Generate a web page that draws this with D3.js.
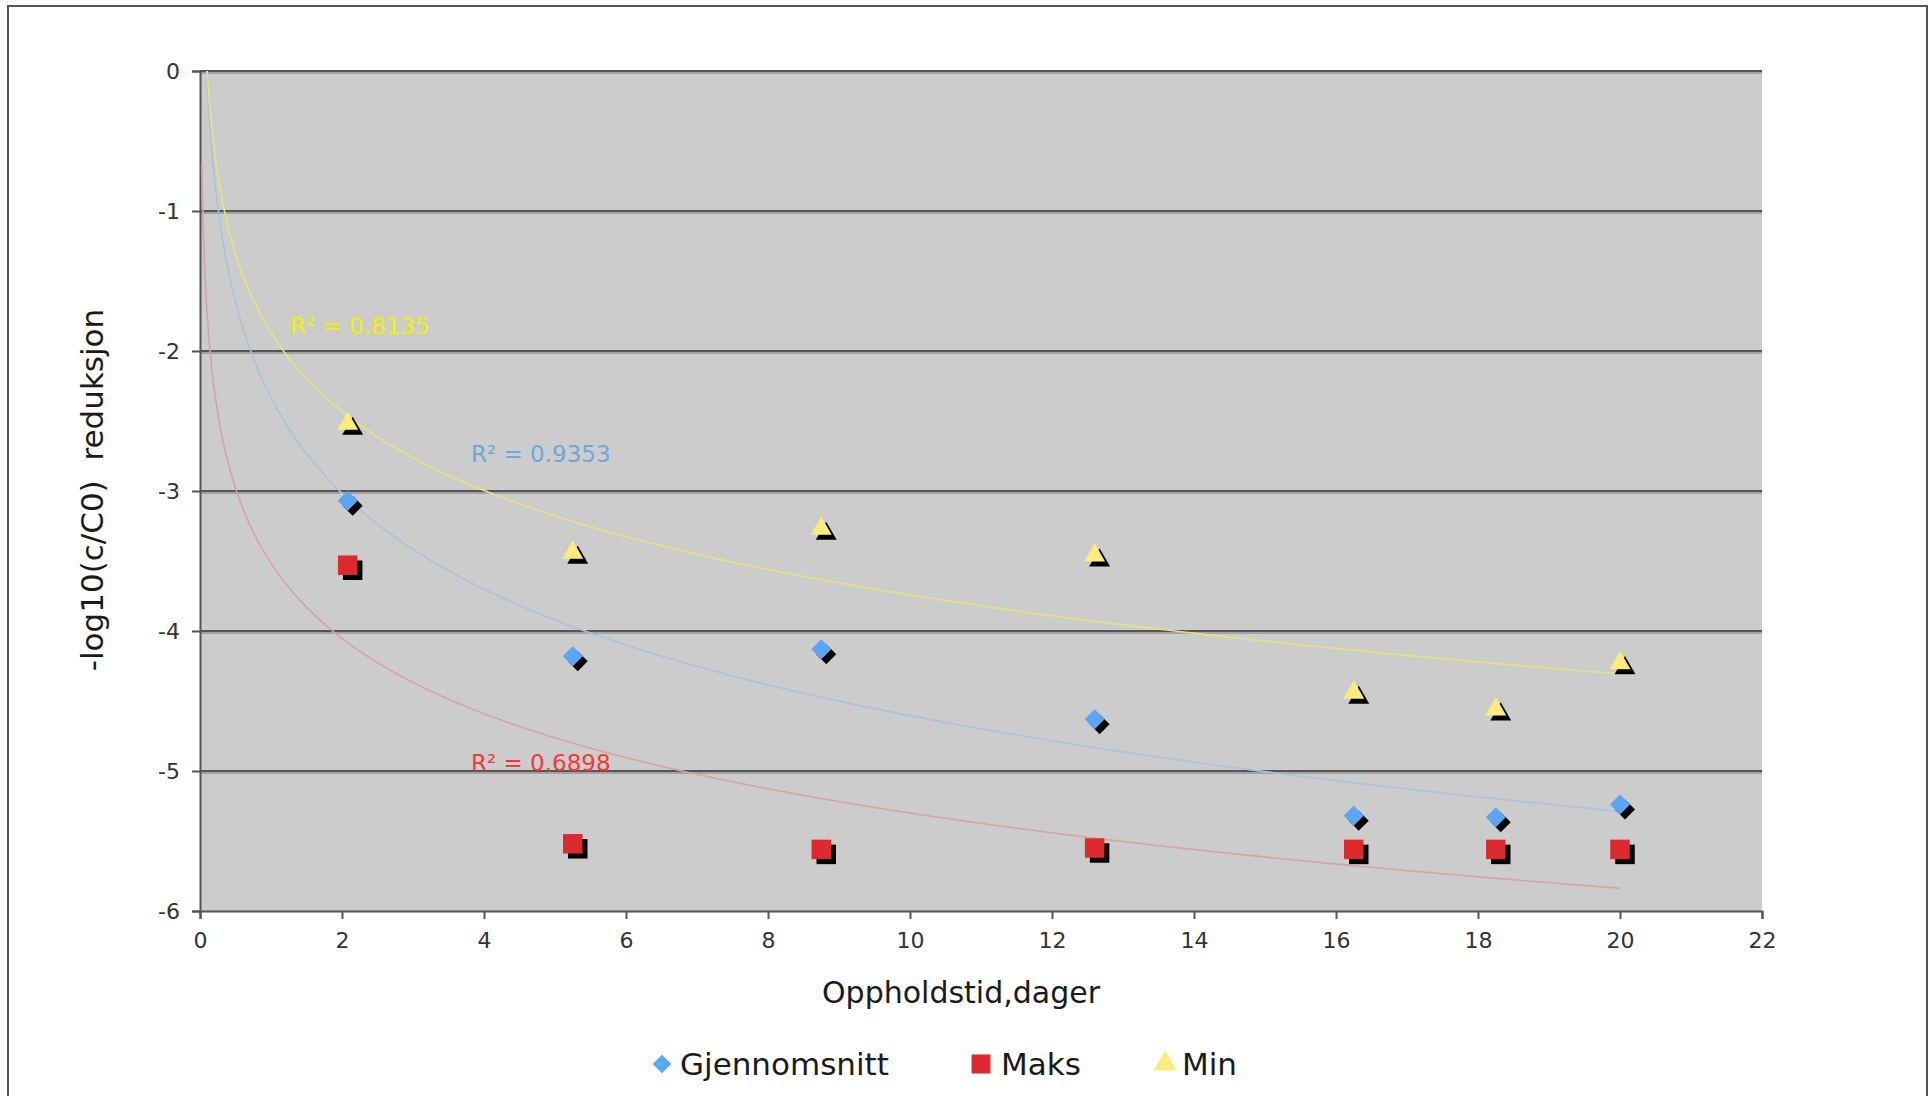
<!DOCTYPE html>
<html>
<head>
<meta charset="utf-8">
<script src="https://cdn.jsdelivr.net/npm/d3@7"></script>
<style>
  html, body { margin: 0; padding: 0; background: #ffffff; }
  svg { display: block; }
  text { font-family: "DejaVu Sans", Verdana, sans-serif; }
</style>
</head>
<body>
<svg id="chart" width="1930" height="1096"></svg>
<script>
// Residence time (days) and log reduction for each series
const residenceDays = [2.08, 5.25, 8.75, 12.6, 16.25, 18.25, 20.0];
const gjennomsnitt = [-3.07, -4.18, -4.13, -4.63, -5.32, -5.33, -5.24];
const maks = [-3.53, -5.52, -5.56, -5.55, -5.56, -5.56, -5.56];
const minVals = [-2.52, -3.44, -3.27, -3.46, -4.44, -4.56, -4.23];

const seriesNames = ["Gjennomsnitt", "Maks", "Min"];
const rSquaredText = ["R\u00B2 = 0.9353", "R\u00B2 = 0.6898", "R\u00B2 = 0.8135"];

const xTickValues = [0, 2, 4, 6, 8, 10, 12, 14, 16, 18, 20, 22];
const yTickValues = [0, -1, -2, -3, -4, -5, -6];

const xTitle = "Oppholdstid,dager";
const yTitle = "-log10(c/C0)\u00A0\u00A0reduksjon";

// Layout
const plot = { left: 200, right: 1762, top: 71, bottom: 911 };
const svg = d3.select("#chart");

const x = d3.scaleLinear().domain([0, 22]).range([plot.left, plot.right]);
const y = d3.scaleLinear().domain([-6, 0]).range([plot.bottom, plot.top]);

const styles = [
  { name: seriesNames[0], values: gjennomsnitt, color: "#5aa6f2", trend: "#a9c3dc", label: "#6fa7dc", shape: "diamond" },
  { name: seriesNames[1], values: maks, color: "#dd2a2e", trend: "#d9a2a2", label: "#f23a3a", shape: "square" },
  { name: seriesNames[2], values: minVals, color: "#fbec7c", trend: "#e4e382", label: "#f2f200", shape: "triangle" }
];

// Outer frame
svg.append("rect")
  .attr("x", 8).attr("y", 6)
  .attr("width", 1919).attr("height", 1110)
  .attr("fill", "#ffffff")
  .attr("stroke", "#555555").attr("stroke-width", 2);

// Plot area
svg.append("rect")
  .attr("x", plot.left).attr("y", plot.top)
  .attr("width", plot.right - plot.left).attr("height", plot.bottom - plot.top)
  .attr("fill", "#cccccc");

svg.append("defs").append("clipPath").attr("id", "plotClip")
  .append("rect")
  .attr("x", plot.left).attr("y", plot.top)
  .attr("width", plot.right - plot.left).attr("height", plot.bottom - plot.top);

// Horizontal gridlines with a soft shadow under each
const grid = svg.append("g");
yTickValues.filter(v => v > -6).forEach(v => {
  grid.append("line")
    .attr("x1", plot.left).attr("x2", plot.right)
    .attr("y1", y(v) + 2).attr("y2", y(v) + 2)
    .attr("stroke", "#a3a3a3").attr("stroke-width", 2);
  grid.append("line")
    .attr("x1", plot.left).attr("x2", plot.right)
    .attr("y1", y(v)).attr("y2", y(v))
    .attr("stroke", "#555555").attr("stroke-width", 2);
});

// Axes (plain hyphen for negative numbers)
const fmt = d => String(d);
const yAxis = d3.axisLeft(y).tickValues(yTickValues).tickSize(8).tickPadding(12).tickFormat(fmt);
const xAxis = d3.axisBottom(x).tickValues(xTickValues).tickSize(8).tickPadding(13).tickFormat(fmt);

const yg = svg.append("g").attr("transform", `translate(${plot.left},0)`).call(yAxis);
const xg = svg.append("g").attr("transform", `translate(0,${plot.bottom})`).call(xAxis);

[yg, xg].forEach(g => {
  g.select(".domain").attr("stroke", "#555555").attr("stroke-width", 2);
  g.selectAll(".tick line").attr("stroke", "#555555").attr("stroke-width", 2);
  g.selectAll(".tick text")
    .attr("fill", "#333333")
    .style("font-family", "'DejaVu Sans', Verdana, sans-serif")
    .style("font-size", "22px");
});

// Logarithmic least-squares trendlines, y = a*ln(x) + b
function logFit(xs, ys) {
  const lx = xs.map(Math.log);
  const mx = d3.mean(lx), my = d3.mean(ys);
  let sxy = 0, sxx = 0;
  lx.forEach((v, i) => { sxy += (v - mx) * (ys[i] - my); sxx += (v - mx) * (v - mx); });
  const a = sxy / sxx;
  return { a, b: my - a * mx };
}

const trendStart = 0.025, trendEnd = 20;
const trendXs = d3.range(0, 401).map(i => Math.exp(Math.log(trendStart) + (Math.log(trendEnd) - Math.log(trendStart)) * i / 400));
const line = d3.line().x(d => x(d[0])).y(d => y(d[1])).curve(d3.curveLinear);

const trends = svg.append("g").attr("clip-path", "url(#plotClip)");
styles.forEach(s => {
  const f = logFit(residenceDays, s.values);
  trends.append("path")
    .attr("d", line(trendXs.map(t => [t, f.a * Math.log(t) + f.b])))
    .attr("fill", "none")
    .attr("stroke", s.trend)
    .attr("stroke-width", 1.6);
});

// R² labels
const labelPos = [
  { x: 471, y: 462 },
  { x: 471, y: 771 },
  { x: 290, y: 334 }
];
styles.forEach((s, i) => {
  svg.append("text")
    .attr("x", labelPos[i].x).attr("y", labelPos[i].y)
    .attr("fill", s.label)
    .style("font-size", "23px")
    .text(rSquaredText[i]);
});

// Marker shapes
function symbolFor(shape, scale) {
  if (shape === "diamond") return d3.symbol(d3.symbolSquare, 200 * scale)();
  if (shape === "square") return d3.symbol(d3.symbolSquare, 380 * scale)();
  return d3.symbol(d3.symbolTriangle, 190 * scale)();
}
function rotFor(shape) { return shape === "diamond" ? " rotate(45)" : ""; }

const marks = svg.append("g");
styles.forEach(s => {
  const pts = residenceDays.map((d, i) => [d, s.values[i]]);
  // drop shadow
  marks.selectAll(null).data(pts).enter().append("path")
    .attr("d", symbolFor(s.shape, 1))
    .attr("transform", d => `translate(${x(d[0]) + 5},${y(d[1]) + 5})${rotFor(s.shape)}`)
    .attr("fill", "#000000");
  marks.selectAll(null).data(pts).enter().append("path")
    .attr("d", symbolFor(s.shape, 1))
    .attr("transform", d => `translate(${x(d[0])},${y(d[1])})${rotFor(s.shape)}`)
    .attr("fill", s.color);
});

// Axis titles
svg.append("text")
  .attr("x", 961).attr("y", 1003)
  .attr("text-anchor", "middle")
  .attr("fill", "#1a1a1a")
  .style("font-size", "30px")
  .text(xTitle);

svg.append("text")
  .attr("transform", "translate(103,490) rotate(-90)")
  .attr("text-anchor", "middle")
  .attr("fill", "#1a1a1a")
  .style("font-size", "31px")
  .text(yTitle);

// Legend
const legendItems = [
  { markX: 662, textX: 680 },
  { markX: 981, textX: 1001 },
  { markX: 1165, textX: 1182 }
];
const legendY = 1064;
const legend = svg.append("g");
styles.forEach((s, i) => {
  const scale = s.shape === "diamond" ? 0.85 : (s.shape === "square" ? 0.95 : 1.2);
  legend.append("path")
    .attr("d", symbolFor(s.shape, scale))
    .attr("transform", `translate(${legendItems[i].markX},${legendY})${rotFor(s.shape)}`)
    .attr("fill", s.color);
  legend.append("text")
    .attr("x", legendItems[i].textX).attr("y", 1075)
    .attr("fill", "#1a1a1a")
    .style("font-size", "31px")
    .text(s.name);
});
</script>
</body>
</html>
